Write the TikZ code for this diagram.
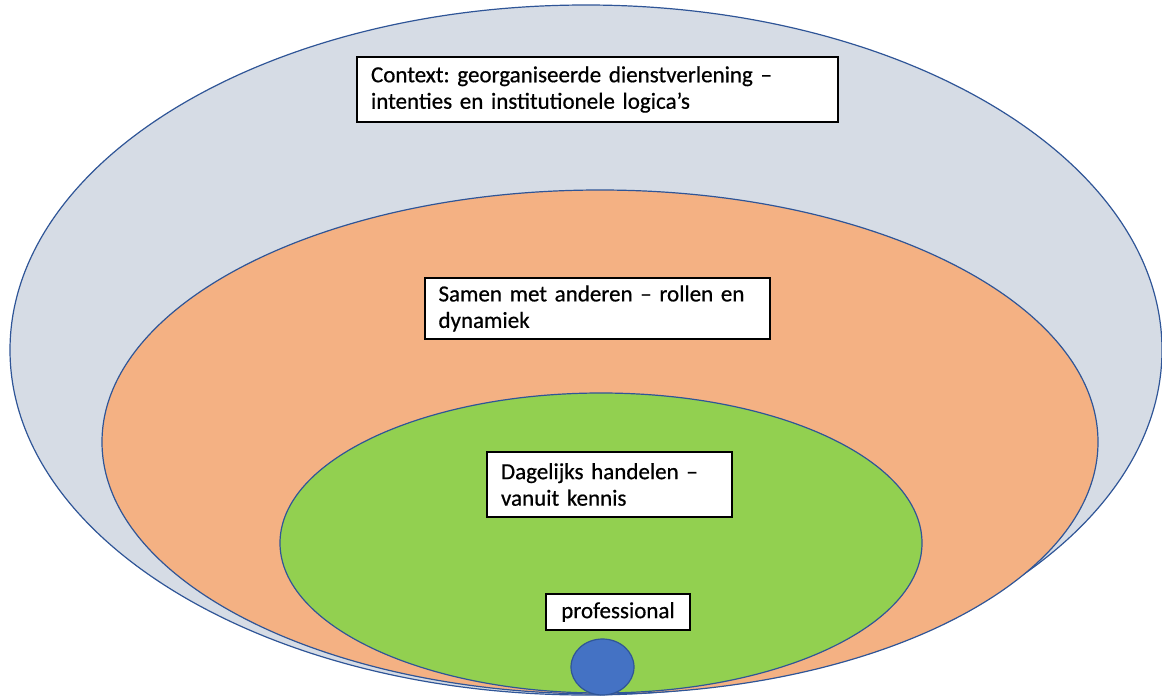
\documentclass[tikz,border=0pt]{standalone}
\usepackage{fontspec}
\setmainfont{Carlito}[FakeBold=0.6]
\usetikzlibrary{shapes.geometric}
\definecolor{ringline}{HTML}{2F5597}
\definecolor{ctxfill}{HTML}{D6DCE5}
\definecolor{othfill}{HTML}{F4B183}
\definecolor{dayfill}{HTML}{92D050}
\definecolor{proffill}{HTML}{4472C4}
\tikzset{
  ring/.style={ellipse, draw=ringline, line width=1.2pt, inner sep=0pt},
  label box/.style={draw=black, line width=1.4pt, fill=white, inner sep=0pt,
    font=\fontsize{23}{26.5}\selectfont, align=left},
}
\frenchspacing
\begin{document}
\begin{tikzpicture}[x=1pt,y=-1pt]
\useasboundingbox (0,0) rectangle (1162,696);
\node[ring, fill=ctxfill, minimum width=1152pt, minimum height=690pt] (ctx) at (586,350) {};
\node[ring, fill=othfill, minimum width=996pt, minimum height=504pt] (oth) at (600,442) {};
\node[ring, fill=dayfill, minimum width=642pt, minimum height=300pt] (day) at (601,543) {};
\node[ring, fill=proffill, minimum width=63pt, minimum height=56pt] (prof) at (602.5,667) {};
\node[label box, minimum width=481pt, minimum height=65pt, text width=453pt] (t1) at (597.5,89.5)
  {Context: georganiseerde dienstverlening –\\intenties en institutionele logica’s};
\node[label box, minimum width=345pt, minimum height=61pt, text width=318pt] (t2) at (597.5,308.5)
  {Samen met anderen – rollen en\\dynamiek};
\node[label box, minimum width=245pt, minimum height=65pt, text width=217pt] (t3) at (609.5,484.5)
  {Dagelijks handelen –\\vanuit kennis};
\node[label box, minimum width=144pt, minimum height=36pt, align=center] (t4) at (618,612)
  {professional};
\end{tikzpicture}
\end{document}
